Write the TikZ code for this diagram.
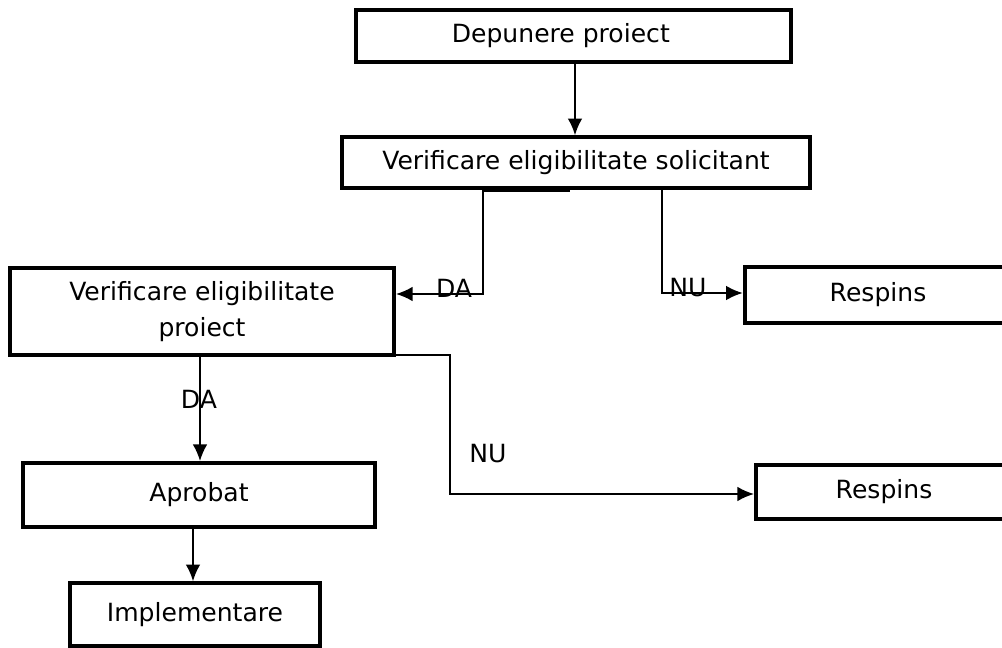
\documentclass[tikz,border=0pt]{standalone}
\usepackage{fontspec}
\setmainfont{DejaVu Sans}
\usetikzlibrary{positioning,arrows.meta,calc}

\begin{document}
\begin{tikzpicture}[x=0.75pt,y=-0.75pt,
            font=\fontsize{18.8}{27.5}\selectfont,
            box/.style={
                draw,
                line width=2.9pt,
                rectangle,
                inner sep=0pt,
                align=center
            },
            conn/.style={line width=1.4pt},
            arr/.style={conn,-{Latex[length=12.5pt,width=11pt]}},
            lbl/.style={inner sep=0pt}]
            \useasboundingbox (0,0) rectangle (1002,648);
            \clip (0,0) rectangle (1002,648);
            % boxes
            \node (dep) [box, minimum width=326pt, minimum height=39pt] at (573.5,36) {Depunere proiect\hspace*{19pt}};
            \node (sol) [box, minimum width=351pt, minimum height=38pt] at (576,162.5) {Verificare eligibilitate solicitant};
            \node (pro) [box, minimum width=288pt, minimum height=65pt] at (202,311.5) {Verificare eligibilitate\\proiect};
            \node (res1) [box, minimum width=200pt, minimum height=42pt] at (878,295) {Respins};
            \node (apr) [box, minimum width=264pt, minimum height=48pt] at (199,495) {Aprobat};
            \node (res2) [box, minimum width=192pt, minimum height=40pt] at (884,492) {Respins};
            \node (imp) [box, minimum width=187pt, minimum height=47pt] at (195,614.5) {Implementare};
            % connectors
            \coordinate (da1) at (483,294);
            \coordinate (nu1) at (662,293);
            \coordinate (nu2) at (450,494);
            \coordinate (mk) at (570,188);
            \draw[line width=3.6pt] (sol.south -| da1) -- (sol.south -| mk);
            \draw[arr] (dep.south -| 575,0) -- (sol.north -| 575,0);
            \draw[arr] (sol.south -| da1) -- (da1) -- (da1 -| pro.east);
            \draw[arr] (sol.south -| nu1) -- (nu1) -- (nu1 -| res1.west);
            \draw[arr] (pro.south -| 200,0) -- (apr.north -| 200,0);
            \draw[arr] ($(pro.south east)+(0,-2)$) -- ($(pro.south east -| nu2)+(0,-2)$) -- (nu2) -- (nu2 -| res2.west);
            \draw[arr] (apr.south -| 193,0) -- (imp.north -| 193,0);
            % labels
            \node (lda1) [lbl] at (454,288) {DA};
            \node (lnu1) [lbl] at (688,288) {NU};
            \node (lda2) [lbl] at (199,399) {DA};
            \node (lnu2) [lbl] at (488,454) {NU};
\end{tikzpicture}
\end{document}
